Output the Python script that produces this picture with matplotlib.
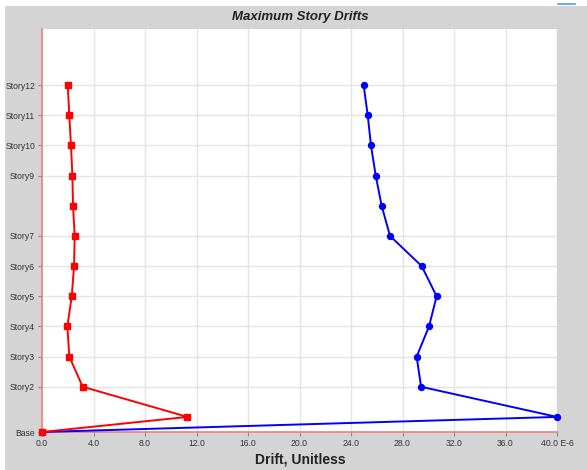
import matplotlib
matplotlib.use("Agg")
from matplotlib import pyplot as plt
from matplotlib.patches import Rectangle
from matplotlib.lines import Line2D

plt.rcParams['font.family'] = ['Liberation Sans', 'DejaVu Sans']

# story levels (Base .. Story12) and their plotted elevations
stories = ["Base", "Story1", "Story2", "Story3", "Story4", "Story5", "Story6",
           "Story7", "Story8", "Story9", "Story10", "Story11", "Story12"]
elev = [0, 0.5, 1.5, 2.5, 3.5, 4.5, 5.5, 6.5, 7.5, 8.5, 9.5, 10.5, 11.5]

# drifts, in units of 1E-6
drift_x = [0.0, 11.3, 3.16, 2.12, 1.97, 2.31, 2.49, 2.54, 2.41, 2.36, 2.25, 2.12, 2.0]
drift_y = [0.0, 40.0, 29.44, 29.1, 30.06, 30.65, 29.49, 27.03, 26.38, 25.92, 25.55, 25.3, 24.98]

labelled = ["Base", "Story2", "Story3", "Story4", "Story5", "Story6", "Story7",
            "Story9", "Story10", "Story11", "Story12"]
xticks = [0, 4, 8, 12, 16, 20, 24, 28, 32, 36, 40]
xticklabels = ["0.0", "4.0", "8.0", "12.0", "16.0", "20.0", "24.0", "28.0",
               "32.0", "36.0", "40.0 E-6"]

bg = "#d4d4d4"
fig = plt.figure(figsize=(5.87, 4.70), dpi=100, facecolor=bg)
# white margin strips of the screenshot
fig.patches.append(Rectangle((0, 1 - 6 / 470), 1, 6 / 470, transform=fig.transFigure,
                             facecolor="white", edgecolor="none", zorder=-5))
fig.patches.append(Rectangle((0, 0), 5 / 587, 1, transform=fig.transFigure,
                             facecolor="white", edgecolor="none", zorder=-5))
fig.lines.append(Line2D([558 / 587, 575 / 587], [1 - 4 / 470, 1 - 4 / 470],
                        transform=fig.transFigure, color="#5b9bd5", lw=1.2))

ax = fig.add_axes([42 / 587, 38 / 470, 515 / 587, 403 / 470])
ax.set_facecolor("white")

ax.plot(drift_y, elev, "-", color="#0000ff", lw=1.4, marker="o", ms=4.3, clip_on=False, zorder=3)
ax.plot(drift_x, elev, "-", color="#ff0000", lw=1.4, marker="s", ms=3.8, clip_on=False, zorder=4)

ax.set_xlim(0, 40)
ax.set_ylim(0, 13.36)

ypos = [elev[stories.index(s)] for s in labelled]
ax.set_yticks(ypos)
ax.set_yticklabels(labelled)
ax.set_xticks(xticks)
ax.set_xticklabels(xticklabels)
ax.tick_params(axis="both", labelsize=6.2, colors="#888888", length=3, width=0.8,
               labelcolor="#333333", pad=2)

ax.grid(True, color="#e4e4e4", lw=1.0)
ax.set_axisbelow(True)

for side in ["top", "right"]:
    ax.spines[side].set_visible(False)
ax.spines["left"].set_color("#f08080")
ax.spines["bottom"].set_color("#f08080")
ax.spines["left"].set_linewidth(1.2)
ax.spines["bottom"].set_linewidth(1.2)

fig.text(300 / 587, 1 - 17 / 470, "Maximum Story Drifts", ha="center", va="center",
         fontsize=9.5, fontweight="bold", fontstyle="italic", color="#222222")
fig.text(300 / 587, 1 - 459 / 470, "Drift, Unitless", ha="center", va="center",
         fontsize=10, fontweight="bold", color="#222222")

fig.savefig("out.png", dpi=100, facecolor=bg)
